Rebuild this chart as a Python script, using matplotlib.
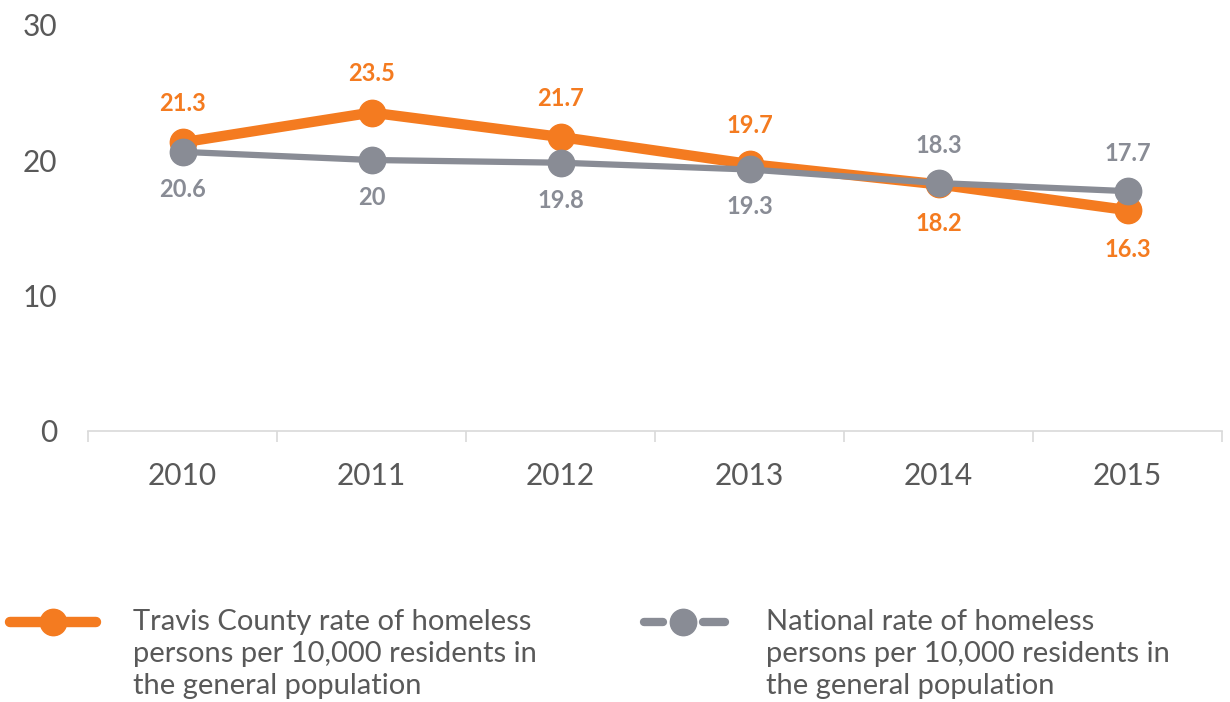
import matplotlib.pyplot as plt
from matplotlib.lines import Line2D

years = ['2010', '2011', '2012', '2013', '2014', '2015']
travis = [21.3, 23.5, 21.7, 19.7, 18.2, 16.3]
national = [20.6, 20, 19.8, 19.3, 18.3, 17.7]
travis_above = [True, True, True, True, False, False]

orange = '#F47B20'
grey = '#898C95'
text_grey = '#595959'

plt.rcParams['font.family'] = ['Lato', 'DejaVu Sans']

fig = plt.figure(figsize=(12.3, 7.02), dpi=100)
ax = fig.add_axes([88 / 1230, 1 - 431 / 702, (1222 - 88) / 1230, (431 - 24.5) / 702])

x = list(range(len(years)))
ax.plot(x, travis, color=orange, lw=7.5, marker='o', ms=19, solid_capstyle='round', zorder=3)
ax.plot(x, national, color=grey, lw=4.5, marker='o', ms=19, solid_capstyle='round', zorder=4)

for i in x:
    up = travis_above[i]
    ax.annotate(f'{travis[i]:g}', (i, travis[i]), xytext=(0, 28 if up else -28),
                textcoords='offset points', ha='center', va='center',
                color=orange, fontsize=17, fontweight='bold')
    ax.annotate(f'{national[i]:g}', (i, national[i]), xytext=(0, -27 if up else 27),
                textcoords='offset points', ha='center', va='center',
                color=grey, fontsize=17, fontweight='bold')

ax.set_xlim(-0.5, len(years) - 0.5)
ax.set_ylim(0, 30)
ax.set_yticks([0, 10, 20, 30])
ax.set_xticks(x)
ax.set_xticklabels(years)
ax.set_xticks([i - 0.5 for i in range(len(years) + 1)], minor=True)
ax.tick_params(axis='x', which='major', length=0, pad=22, labelsize=21.5, labelcolor=text_grey)
ax.tick_params(axis='x', which='minor', length=8, color='#D9D9D9', width=1.2)
ax.tick_params(axis='y', length=0, pad=22, labelsize=21.5, labelcolor=text_grey)
for s in ['top', 'right', 'left']:
    ax.spines[s].set_visible(False)
ax.spines['bottom'].set_color('#D9D9D9')
ax.spines['bottom'].set_linewidth(1.2)

# legend drawn by hand in figure pixels
def px(xp, yp):
    return xp / 1230, 1 - yp / 702

ly = px(0, 622)[1]
fig.add_artist(Line2D([px(10, 0)[0], px(96, 0)[0]], [ly, ly], color=orange,
                      lw=7.5, solid_capstyle='round'))
fig.add_artist(Line2D([px(53, 0)[0]], [ly], color=orange, marker='o', ms=19))
fig.add_artist(Line2D([px(644, 0)[0], px(663, 0)[0]], [ly, ly], color=grey,
                      lw=6, solid_capstyle='round'))
fig.add_artist(Line2D([px(703, 0)[0], px(725, 0)[0]], [ly, ly], color=grey,
                      lw=6, solid_capstyle='round'))
fig.add_artist(Line2D([px(683, 0)[0]], [ly], color=grey, marker='o', ms=19))

label = '{} rate of homeless\npersons per 10,000 residents in\nthe general population'
fig.text(*px(133, 654), label.format('Travis County'), ha='left', va='center',
         fontsize=21, color=text_grey, linespacing=1.3)
fig.text(*px(766, 654), label.format('National'), ha='left', va='center',
         fontsize=21, color=text_grey, linespacing=1.3)

fig.savefig('out.png', dpi=100)
